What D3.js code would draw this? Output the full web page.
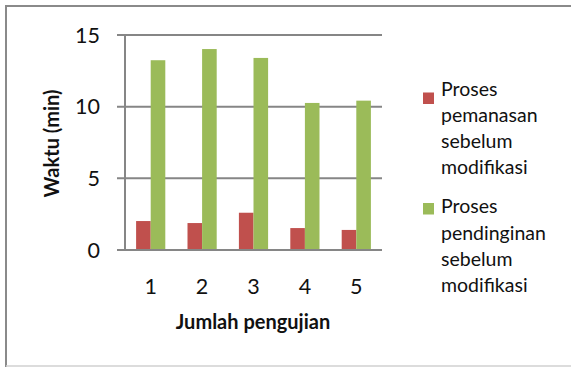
<!DOCTYPE html>
<html>
<head>
<meta charset="utf-8">
<script src="https://cdn.jsdelivr.net/npm/d3@7"></script>
<style>
  html, body { margin: 0; padding: 0; background: #fff; }
  svg { display: block; }
  text { font-family: Lato, "Open Sans", sans-serif; fill: #111; }
</style>
</head>
<body>
<svg id="chart" width="571" height="367"></svg>
<script>
const categories = ["1", "2", "3", "4", "5"];
const seriesNames = ["Proses pemanasan sebelum modifikasi", "Proses pendinginan sebelum modifikasi"];
const legendLines = [["Proses", "pemanasan", "sebelum", "modifikasi"], ["Proses", "pendinginan", "sebelum", "modifikasi"]];
const heatingValues = [2.02, 1.88, 2.6, 1.53, 1.4];
const coolingValues = [13.24, 14.02, 13.4, 10.26, 10.42];
const yTicks = [0, 5, 10, 15];
const colors = ["#C0504D", "#9BBB59"];
const xTitle = "Jumlah pengujian";
const yTitle = "Waktu (min)";

const svg = d3.select("#chart");

// outer frame
svg.append("line").attr("x1", 6).attr("x2", 571).attr("y1", 6).attr("y2", 6).attr("stroke", "#8a8a8a").attr("stroke-width", 2);
svg.append("line").attr("x1", 6).attr("x2", 6).attr("y1", 5).attr("y2", 367).attr("stroke", "#8a8a8a").attr("stroke-width", 2);
svg.append("line").attr("x1", 6).attr("x2", 571).attr("y1", 366).attr("y2", 366).attr("stroke", "#d0d0d0").attr("stroke-width", 1.5);

const plot = { left: 125, right: 382, top: 35, bottom: 250 };

const x = d3.scaleBand().domain(categories).range([plot.left, plot.right]).paddingInner(0).paddingOuter(0);
const y = d3.scaleLinear().domain([0, 15]).range([plot.bottom, plot.top]);
const barW = 14.6;
const sub = d3.scaleBand().domain([0, 1]).range([-barW, barW]);

// gridlines
svg.append("g").selectAll("line").data(yTicks).join("line")
  .attr("x1", plot.left - 8).attr("x2", plot.right)
  .attr("y1", d => y(d)).attr("y2", d => y(d))
  .attr("stroke", "#868686").attr("stroke-width", 2);

// y axis line
svg.append("line").attr("x1", plot.left).attr("x2", plot.left)
  .attr("y1", plot.top).attr("y2", plot.bottom)
  .attr("stroke", "#868686").attr("stroke-width", 2);

// bars
const series = [heatingValues, coolingValues];
series.forEach((vals, si) => {
  svg.append("g").selectAll("rect").data(vals).join("rect")
    .attr("x", (d, i) => x(categories[i]) + x.bandwidth() / 2 + sub(si))
    .attr("width", sub.bandwidth())
    .attr("y", d => y(d))
    .attr("height", d => y(0) - y(d))
    .attr("fill", colors[si]);
});

// redraw zero line on top
svg.append("line").attr("x1", plot.left - 8).attr("x2", plot.right)
  .attr("y1", y(0)).attr("y2", y(0)).attr("stroke", "#868686").attr("stroke-width", 2);

// y tick labels
svg.append("g").selectAll("text").data(yTicks).join("text")
  .attr("x", 100).attr("y", d => y(d))
  .attr("dy", "0.36em")
  .attr("text-anchor", "end")
  .attr("font-size", 21.5)
  .text(d => d);

// x tick labels
svg.append("g").selectAll("text").data(categories).join("text")
  .attr("x", d => x(d) + x.bandwidth() / 2).attr("y", 293.5)
  .attr("text-anchor", "middle")
  .attr("font-size", 21.5)
  .text(d => d);

// axis titles
svg.append("text").attr("x", 253).attr("y", 328.5)
  .attr("text-anchor", "middle").attr("font-size", 20).attr("font-weight", "bold")
  .text(xTitle);
svg.append("text").attr("transform", "translate(59,143.5) rotate(-90)")
  .attr("text-anchor", "middle").attr("font-size", 20).attr("font-weight", "bold")
  .text(yTitle);

// legend
const legendBaselines = [95.5, 213.3];
const legendSquareTops = [92.5, 203];
seriesNames.forEach((name, si) => {
  const g = svg.append("g");
  g.append("rect").attr("x", 423).attr("y", legendSquareTops[si]).attr("width", 11).attr("height", 11.5)
    .attr("fill", colors[si]);
  legendLines[si].forEach((line, li) => {
    g.append("text").attr("x", 441).attr("y", legendBaselines[si] + li * 26.2)
      .attr("font-size", 19.5).text(line);
  });
});
</script>
</body>
</html>
